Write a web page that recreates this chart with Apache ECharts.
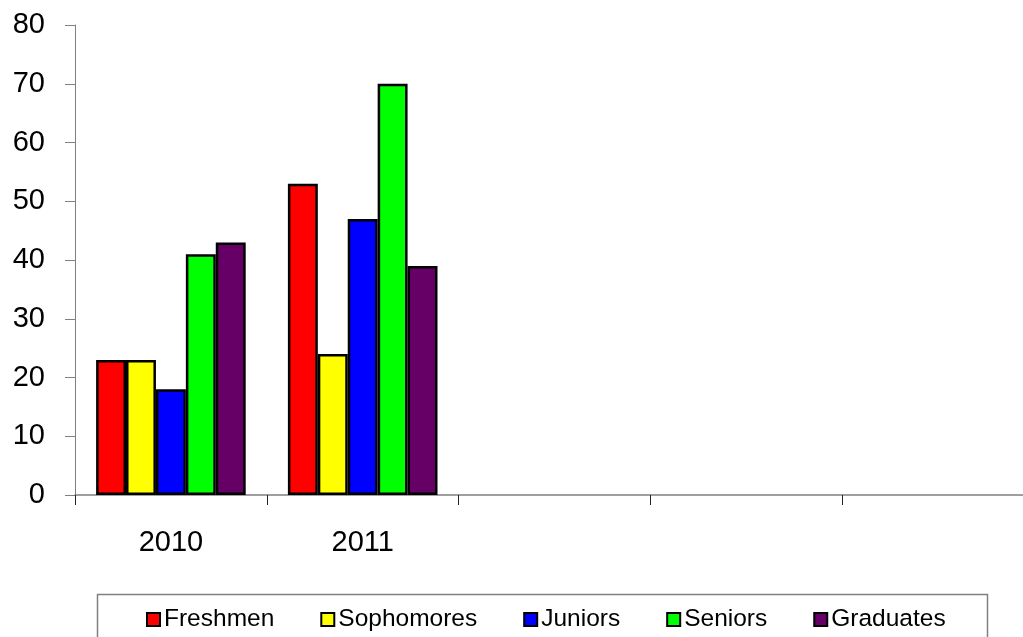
<!DOCTYPE html>
<html>
<head>
<meta charset="utf-8">
<script src="https://cdn.jsdelivr.net/npm/echarts@6/dist/echarts.min.js"></script>
<style>
  html, body { margin: 0; padding: 0; background: #fff; }
  #main { width: 1023px; height: 637px; }
</style>
</head>
<body>
<div id="main"></div>
<script>
// 类别 (后三个为空类别)
var years = ["2010", "2011", "", "", ""];
var freshmen = [23, 53];
var sophomores = [23, 24];
var juniors = [18, 47];
var seniors = [41, 70];
var graduates = [43, 39];
var yTicks = { min: 0, max: 80, interval: 10 };

var chart = echarts.init(document.getElementById("main"));
var font = "Liberation Sans, Arial, sans-serif";

function bar(name, data, color) {
  return {
    name: name,
    type: "bar",
    data: data,
    barGap: "0%",
    barCategoryGap: "22%",
    itemStyle: { color: color, borderColor: "#000", borderWidth: 2.5 }
  };
}

var option = {
  animation: false,
  backgroundColor: "#fff",
  grid: { left: 75, top: 25, bottom: 142, width: 959, containLabel: false, outerBoundsMode: "none" },
  xAxis: {
    type: "category",
    data: years,
    boundaryGap: true,
    axisLine: { lineStyle: { color: "#808080", width: 1.5 } },
    axisTick: { show: true, interval: 0, alignWithLabel: false, length: 10, lineStyle: { color: "#222", width: 1 } },
    axisLabel: { interval: 0, color: "#000", fontSize: 29, fontFamily: font, margin: 33 }
  },
  yAxis: {
    type: "value",
    min: yTicks.min,
    max: yTicks.max,
    interval: yTicks.interval,
    axisLine: { show: true, lineStyle: { color: "#808080" } },
    axisTick: { show: true, length: 10, lineStyle: { color: "#808080" } },
    splitLine: { show: false },
    axisLabel: { color: "#000", fontSize: 29, fontFamily: font, margin: 30 }
  },
  legend: {
    left: 141,
    top: 602,
    itemWidth: 13,
    itemHeight: 13,
    itemGap: 46,
    textStyle: { color: "#000", fontSize: 24.5, fontFamily: font, padding: [0, 0, 0, -1] },
    icon: "rect"
  },
  graphic: [
    {
      type: "rect",
      left: 95,
      top: 592,
      shape: { width: 890, height: 60 },
      style: { fill: "none", stroke: "#808080", lineWidth: 1.5 },
      z: -1
    }
  ],
  series: [
    bar("Freshmen", freshmen, "#FF0000"),
    bar("Sophomores", sophomores, "#FFFF00"),
    bar("Juniors", juniors, "#0000FF"),
    bar("Seniors", seniors, "#00FF00"),
    bar("Graduates", graduates, "#660066")
  ]
};
chart.setOption(option);
</script>
</body>
</html>
